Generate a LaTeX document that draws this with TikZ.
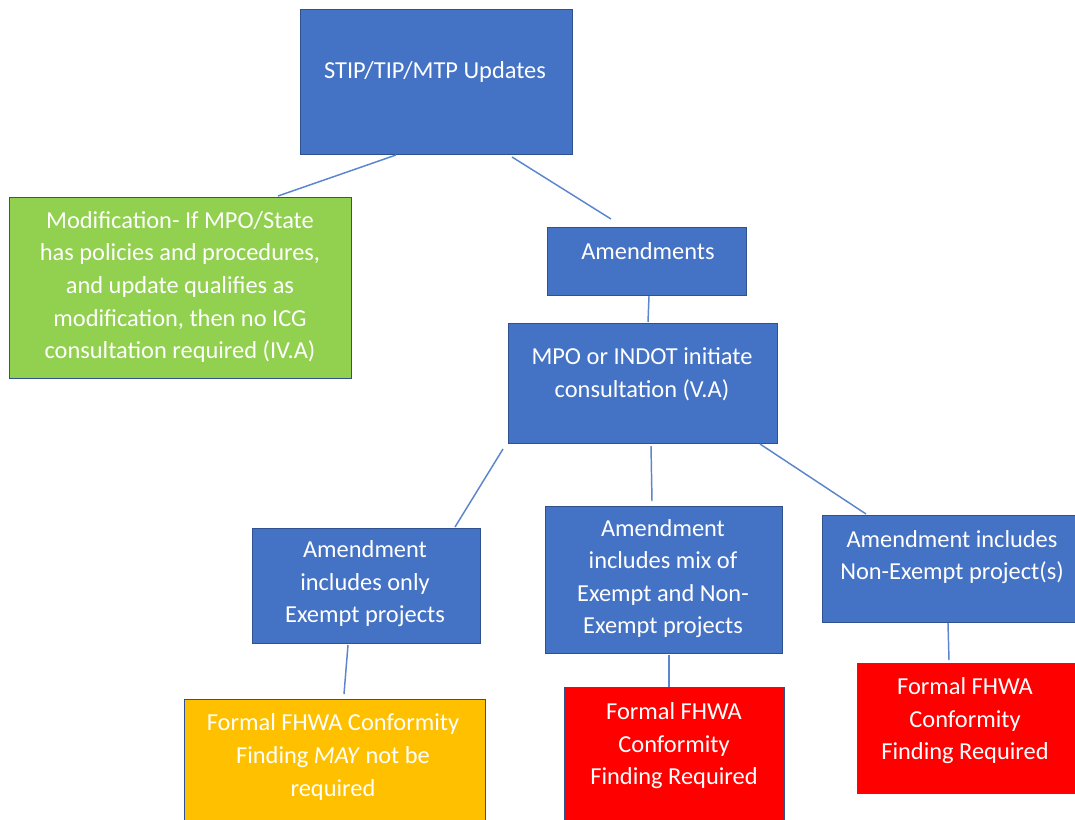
\documentclass[tikz,border=0pt]{standalone}
\usepackage{fontspec}
\setmainfont{Carlito}
\definecolor{boxblue}{HTML}{4472C4}
\definecolor{edgeblue}{HTML}{2F528F}
\definecolor{boxgreen}{HTML}{92D050}
\definecolor{boxorange}{HTML}{FFC000}
\definecolor{boxred}{HTML}{FF0000}
\definecolor{linkblue}{HTML}{5B86CE}
\tikzset{
  box/.style={draw=edgeblue, line width=0.9pt, anchor=north west, inner sep=0pt},
  txt/.style={text=white, font=\fontsize{18.3}{24.4}\selectfont, align=center, inner sep=0pt},
  link/.style={draw=linkblue, line width=1.1pt},
}
\begin{document}
\begin{tikzpicture}[x=0.75pt,y=-0.75pt]
\clip (0,0) rectangle (1075,819);
\fill[white] (0,0) rectangle (1075,819);
% boxes
\node[box, fill=boxblue, minimum width=272*0.75pt, minimum height=145*0.75pt] (top) at (300,9) {};
\node[box, fill=boxgreen, minimum width=342*0.75pt, minimum height=181*0.75pt] (mod) at (9,197) {};
\node[box, fill=boxblue, minimum width=199*0.75pt, minimum height=68*0.75pt] (amend) at (547,227) {};
\node[box, fill=boxblue, minimum width=269*0.75pt, minimum height=120*0.75pt] (mpo) at (508,323) {};
\node[box, fill=boxblue, minimum width=228*0.75pt, minimum height=115*0.75pt] (exempt) at (252,528) {};
\node[box, fill=boxblue, minimum width=237*0.75pt, minimum height=147*0.75pt] (mix) at (545,506) {};
\node[box, fill=boxblue, minimum width=300*0.75pt, minimum height=107*0.75pt] (nonex) at (822,515) {};
\node[box, fill=boxorange, minimum width=301*0.75pt, minimum height=140*0.75pt] (may) at (184,699) {};
\node[box, fill=boxred, minimum width=220*0.75pt, minimum height=150*0.75pt] (reqmid) at (564,687) {};
\node[box, fill=boxred, minimum width=260*0.75pt, minimum height=130*0.75pt] (reqright) at (857,663) {};
% texts
\node[txt] (topT) at (435,72) {STIP/TIP/MTP Updates};
\node[txt] (modT) at (180,287) {Modification- If MPO/State\\has policies and procedures,\\and update qualifies as\\modification, then no ICG\\consultation required (IV.A)};
\node[txt] (amendT) at (648,251) {Amendments};
\node[txt] (mpoT) at (642,374) {MPO or INDOT initiate\\consultation (V.A)};
\node[txt] (exemptT) at (365,584) {Amendment\\includes only\\Exempt projects};
\node[txt] (mixT) at (663,578.5) {Amendment\\includes mix of\\Exempt and Non-\\Exempt projects};
\node[txt] (nonexT) at (952,557) {Amendment includes\\Non-Exempt project(s)};
\node[txt] (mayT) at (333,757) {Formal FHWA Conformity\\Finding \emph{MAY} not be\\required};
\node[txt] (reqmidT) at (674,746) {Formal FHWA\\Conformity\\Finding Required};
\node[txt] (reqrightT) at (965,721) {Formal FHWA\\Conformity\\Finding Required};
% connector ends
\coordinate (c1a) at (396,155); \coordinate (c1b) at (278,196);
\coordinate (c2a) at (512,157); \coordinate (c2b) at (611,219);
\coordinate (c3a) at (649,296); \coordinate (c3b) at (648,322);
\coordinate (c4a) at (503,449); \coordinate (c4b) at (455,527);
\coordinate (c5a) at (651,446); \coordinate (c5b) at (652,501);
\coordinate (c6a) at (760,444); \coordinate (c6b) at (866,514);
\coordinate (c7a) at (348,645); \coordinate (c7b) at (344,694);
\coordinate (c8a) at (669,655); \coordinate (c8b) at (669,687);
\coordinate (c9a) at (948,623); \coordinate (c9b) at (949,660);
\draw[link] (c1a) -- (c1b);
\draw[link] (c2a) -- (c2b);
\draw[link] (c3a) -- (c3b);
\draw[link] (c4a) -- (c4b);
\draw[link] (c5a) -- (c5b);
\draw[link] (c6a) -- (c6b);
\draw[link] (c7a) -- (c7b);
\draw[link] (c8a) -- (c8b);
\draw[link] (c9a) -- (c9b);
\end{tikzpicture}
\end{document}
